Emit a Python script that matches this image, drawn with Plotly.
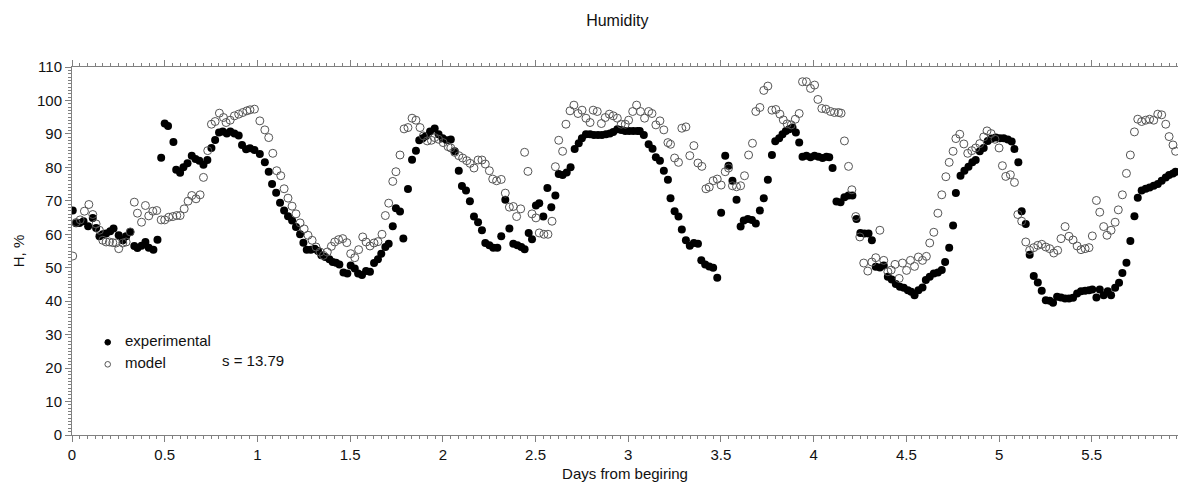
import plotly.graph_objects as go

# Measured humidity (days since start, %)
days_exp = [
    0.004, 0.022, 0.040, 0.062, 0.087, 0.112, 0.130, 0.148, 0.166, 0.184, 0.206, 0.224, 0.252, 0.274, 0.292, 0.314,
    0.336, 0.353, 0.375, 0.396, 0.414, 0.439, 0.461, 0.481, 0.500, 0.518, 0.547, 0.562, 0.583, 0.601, 0.623, 0.646,
    0.666, 0.687, 0.709, 0.730, 0.752, 0.772, 0.793, 0.813, 0.835, 0.854, 0.876, 0.899, 0.917, 0.939, 0.960, 0.984,
    1.013, 1.040, 1.061, 1.079, 1.101, 1.122, 1.144, 1.165, 1.187, 1.208, 1.230, 1.248, 1.266, 1.288, 1.309, 1.327,
    1.345, 1.366, 1.388, 1.406, 1.424, 1.442, 1.464, 1.485, 1.503, 1.525, 1.543, 1.564, 1.586, 1.607, 1.629, 1.650,
    1.668, 1.690, 1.708, 1.730, 1.747, 1.769, 1.787, 1.812, 1.834, 1.855, 1.873, 1.891, 1.909, 1.931, 1.956, 1.977,
    1.999, 2.021, 2.043, 2.064, 2.086, 2.103, 2.125, 2.146, 2.168, 2.190, 2.211, 2.229, 2.251, 2.272, 2.294, 2.315,
    2.337, 2.359, 2.380, 2.402, 2.423, 2.441, 2.463, 2.481, 2.502, 2.520, 2.542, 2.564, 2.585, 2.607, 2.625, 2.646,
    2.668, 2.689, 2.711, 2.733, 2.750, 2.772, 2.794, 2.815, 2.837, 2.858, 2.880, 2.901, 2.919, 2.941, 2.962, 2.984,
    3.005, 3.027, 3.049, 3.062, 3.084, 3.110, 3.131, 3.149, 3.171, 3.192, 3.214, 3.228, 3.250, 3.271, 3.289, 3.311,
    3.332, 3.354, 3.376, 3.394, 3.415, 3.437, 3.458, 3.480, 3.501, 3.523, 3.541, 3.562, 3.584, 3.606, 3.623, 3.645,
    3.667, 3.688, 3.710, 3.731, 3.753, 3.775, 3.793, 3.814, 3.832, 3.850, 3.868, 3.886, 3.904, 3.922, 3.940, 3.961,
    3.983, 4.005, 4.026, 4.048, 4.069, 4.084, 4.102, 4.123, 4.145, 4.166, 4.188, 4.209, 4.231, 4.252, 4.274, 4.296,
    4.314, 4.335, 4.357, 4.378, 4.400, 4.421, 4.443, 4.465, 4.486, 4.508, 4.526, 4.544, 4.565, 4.587, 4.605, 4.626,
    4.648, 4.670, 4.691, 4.709, 4.731, 4.752, 4.767, 4.792, 4.813, 4.835, 4.856, 4.874, 4.896, 4.917, 4.939, 4.960,
    4.982, 5.004, 5.025, 5.047, 5.068, 5.083, 5.104, 5.122, 5.144, 5.165, 5.187, 5.209, 5.230, 5.252, 5.273, 5.291,
    5.313, 5.334, 5.356, 5.377, 5.399, 5.421, 5.442, 5.464, 5.485, 5.503, 5.525, 5.543, 5.564, 5.586, 5.604, 5.626,
    5.647, 5.665, 5.687, 5.708, 5.730, 5.748, 5.769, 5.791, 5.812, 5.834, 5.856, 5.877, 5.899, 5.917, 5.938, 5.952,
]
hum_exp = [
    67.1, 63.3, 63.4, 63.9, 62.4, 64.9, 61.9, 59.4, 60.0, 60.2, 60.9, 61.7, 59.7, 58.2, 59.4, 60.7,
    56.5, 55.9, 56.6, 57.7, 56.0, 55.4, 58.4, 82.9, 93.1, 92.4, 87.6, 79.3, 78.4, 80.0, 81.2, 83.5,
    82.5, 82.0, 80.8, 82.2, 85.8, 88.2, 90.4, 90.7, 90.1, 90.7, 90.1, 89.5, 86.7, 85.4, 85.7, 85.2,
    84.0, 81.5, 78.7, 75.0, 72.4, 69.4, 67.1, 65.4, 64.1, 62.2, 60.0, 57.5, 55.4, 55.4, 55.7, 55.0,
    53.7, 53.2, 52.5, 51.7, 51.5, 51.0, 48.6, 48.3, 50.7, 49.8, 48.3, 47.8, 49.0, 48.8, 51.4, 52.5,
    54.2, 56.2, 57.2, 62.4, 67.8, 66.8, 58.7, 73.5, 82.3, 85.0, 88.1, 88.7, 89.4, 90.7, 91.6, 89.9,
    88.7, 88.1, 88.3, 84.8, 79.0, 74.4, 73.1, 69.9, 65.3, 63.6, 61.2, 57.4, 56.7, 56.0, 56.0, 59.4,
    70.3, 61.7, 57.2, 56.7, 56.2, 55.5, 60.4, 58.5, 68.6, 69.3, 65.3, 73.8, 68.1, 71.6, 78.0, 77.7,
    78.5, 80.0, 85.5, 87.2, 88.7, 89.9, 89.9, 89.7, 89.7, 89.7, 89.9, 90.1, 90.6, 91.4, 91.2, 90.9,
    90.9, 90.9, 90.9, 90.9, 89.7, 86.9, 85.6, 83.0, 82.0, 79.0, 76.3, 70.8, 66.9, 65.3, 61.4, 58.2,
    56.6, 57.4, 57.2, 52.2, 51.0, 50.4, 50.0, 47.0, 66.4, 83.5, 80.5, 76.0, 70.3, 62.3, 64.1, 64.6,
    64.3, 63.2, 67.1, 70.8, 76.3, 83.7, 87.8, 88.7, 89.9, 90.9, 91.4, 91.9, 90.4, 87.4, 83.2, 83.5,
    83.0, 83.5, 83.2, 82.8, 83.2, 83.0, 79.8, 69.8, 69.6, 71.1, 71.6, 71.6, 64.6, 60.4, 60.2, 60.2,
    58.2, 50.3, 50.1, 50.7, 47.3, 46.5, 45.1, 44.3, 44.0, 43.3, 42.8, 41.8, 43.3, 44.1, 46.3, 47.3,
    48.3, 48.6, 49.3, 51.7, 56.0, 62.6, 72.3, 77.5, 79.0, 80.2, 81.5, 82.2, 84.8, 85.8, 87.9, 88.6,
    88.9, 88.7, 88.7, 88.3, 87.7, 85.5, 81.5, 66.9, 63.1, 53.9, 47.5, 45.6, 43.1, 40.3, 40.1, 39.5,
    41.3, 41.1, 40.8, 40.8, 41.0, 42.3, 43.0, 43.1, 43.3, 43.5, 41.1, 43.5, 41.8, 43.0, 41.8, 44.0,
    45.5, 48.4, 51.5, 58.0, 65.4, 70.9, 73.1, 73.6, 74.0, 74.5, 75.0, 76.0, 77.0, 77.7, 78.2, 78.7,
]

# Model humidity (days since start, %)
days_mod = [
    0.004, 0.022, 0.044, 0.067, 0.091, 0.112, 0.130, 0.148, 0.166, 0.184, 0.202, 0.220, 0.238, 0.252, 0.274, 0.292,
    0.314, 0.336, 0.353, 0.375, 0.396, 0.414, 0.436, 0.457, 0.481, 0.500, 0.522, 0.544, 0.565, 0.583, 0.605, 0.626,
    0.646, 0.669, 0.691, 0.709, 0.732, 0.752, 0.772, 0.795, 0.817, 0.831, 0.853, 0.876, 0.899, 0.921, 0.943, 0.960,
    0.984, 1.013, 1.040, 1.061, 1.083, 1.104, 1.126, 1.144, 1.165, 1.187, 1.208, 1.230, 1.252, 1.273, 1.295, 1.316,
    1.338, 1.356, 1.377, 1.399, 1.417, 1.438, 1.460, 1.482, 1.503, 1.525, 1.546, 1.568, 1.586, 1.607, 1.629, 1.650,
    1.672, 1.690, 1.708, 1.730, 1.747, 1.769, 1.791, 1.812, 1.834, 1.855, 1.877, 1.895, 1.916, 1.938, 1.956, 1.977,
    2.002, 2.028, 2.043, 2.064, 2.086, 2.107, 2.129, 2.147, 2.168, 2.190, 2.211, 2.229, 2.251, 2.269, 2.290, 2.315,
    2.337, 2.359, 2.380, 2.398, 2.420, 2.441, 2.459, 2.481, 2.502, 2.520, 2.545, 2.567, 2.589, 2.607, 2.625, 2.646,
    2.664, 2.686, 2.707, 2.729, 2.751, 2.772, 2.794, 2.811, 2.833, 2.855, 2.876, 2.898, 2.919, 2.941, 2.962, 2.984,
    3.002, 3.024, 3.045, 3.066, 3.088, 3.110, 3.128, 3.149, 3.171, 3.192, 3.214, 3.228, 3.250, 3.271, 3.289, 3.311,
    3.332, 3.354, 3.376, 3.397, 3.419, 3.437, 3.458, 3.480, 3.501, 3.523, 3.541, 3.562, 3.584, 3.606, 3.627, 3.649,
    3.670, 3.688, 3.710, 3.731, 3.753, 3.775, 3.796, 3.818, 3.836, 3.857, 3.879, 3.901, 3.922, 3.940, 3.961, 3.983,
    4.005, 4.023, 4.044, 4.066, 4.091, 4.112, 4.134, 4.148, 4.166, 4.188, 4.206, 4.227, 4.249, 4.270, 4.292, 4.314,
    4.335, 4.357, 4.378, 4.400, 4.418, 4.439, 4.461, 4.479, 4.501, 4.522, 4.544, 4.565, 4.587, 4.608, 4.626, 4.648,
    4.670, 4.691, 4.713, 4.731, 4.752, 4.767, 4.788, 4.810, 4.831, 4.853, 4.874, 4.896, 4.917, 4.935, 4.957, 4.978,
    5.000, 5.018, 5.036, 5.061, 5.083, 5.101, 5.122, 5.144, 5.165, 5.187, 5.209, 5.230, 5.252, 5.273, 5.295, 5.316,
    5.334, 5.356, 5.377, 5.399, 5.421, 5.442, 5.464, 5.485, 5.503, 5.525, 5.543, 5.564, 5.582, 5.604, 5.626, 5.643,
    5.665, 5.687, 5.708, 5.730, 5.748, 5.769, 5.791, 5.812, 5.834, 5.856, 5.877, 5.899, 5.917, 5.938, 5.952,
]
hum_mod = [
    53.5, 63.5, 64.3, 66.9, 68.9, 65.9, 63.1, 61.2, 58.2, 57.7, 57.7, 57.5, 57.4, 55.7, 57.4, 57.7,
    60.7, 69.6, 66.3, 63.6, 68.6, 65.5, 66.9, 67.1, 64.3, 64.3, 65.1, 65.3, 65.6, 65.6, 67.6, 69.9,
    71.6, 70.6, 71.8, 77.0, 85.0, 92.9, 93.7, 96.2, 94.9, 93.4, 94.1, 95.4, 95.9, 96.4, 96.9, 97.2,
    97.4, 93.9, 91.2, 88.9, 84.2, 79.0, 77.5, 73.6, 70.8, 68.4, 66.1, 63.4, 61.6, 59.7, 58.2, 56.2,
    54.7, 53.7, 54.7, 56.4, 57.7, 58.4, 58.7, 57.5, 54.2, 53.0, 55.4, 59.2, 57.7, 56.5, 57.4, 57.8,
    60.0, 65.6, 69.3, 75.8, 78.7, 83.7, 91.5, 91.9, 94.7, 94.1, 91.9, 89.4, 87.9, 88.1, 88.9, 88.4,
    87.4, 86.2, 85.8, 84.5, 83.5, 82.8, 82.0, 81.2, 79.8, 82.2, 82.2, 81.0, 79.0, 76.5, 76.0, 76.4,
    72.3, 68.1, 68.3, 65.3, 67.6, 84.5, 78.8, 66.1, 64.9, 60.4, 60.0, 60.0, 63.9, 80.2, 88.1, 84.8,
    92.9, 96.9, 98.6, 96.1, 97.1, 94.7, 93.4, 97.1, 96.7, 93.1, 94.9, 95.9, 95.4, 94.7, 92.9, 92.9,
    94.1, 96.7, 98.6, 96.7, 94.7, 96.7, 96.1, 92.7, 93.9, 91.2, 87.4, 86.9, 82.8, 81.5, 91.7, 92.1,
    83.5, 86.5, 81.3, 80.3, 73.6, 74.1, 76.0, 76.5, 74.7, 78.7, 79.8, 74.5, 74.2, 74.5, 77.5, 83.7,
    87.2, 96.7, 97.9, 103.0, 104.3, 97.1, 97.3, 95.9, 94.2, 93.0, 92.7, 94.4, 96.1, 105.6, 105.6, 103.6,
    104.6, 100.3, 97.6, 97.4, 96.7, 96.4, 96.4, 96.2, 87.9, 80.3, 73.3, 65.3, 59.2, 51.4, 49.0, 51.7,
    53.0, 61.2, 52.2, 48.8, 49.3, 51.0, 46.8, 51.4, 49.2, 52.2, 50.4, 53.2, 52.2, 53.4, 57.4, 60.6,
    66.3, 71.8, 77.2, 81.5, 84.8, 88.6, 89.9, 87.0, 84.2, 85.0, 85.8, 87.1, 89.1, 90.9, 90.1, 88.4,
    85.8, 80.5, 77.3, 77.8, 75.5, 65.9, 63.9, 57.7, 55.2, 56.0, 56.7, 57.0, 56.2, 55.7, 54.4, 55.2,
    58.7, 62.3, 59.4, 58.3, 56.5, 55.4, 55.7, 56.0, 59.5, 70.1, 66.6, 62.3, 59.7, 61.2, 63.6, 67.3,
    71.8, 78.2, 83.7, 90.6, 94.4, 93.7, 94.1, 94.4, 94.1, 95.9, 95.7, 92.9, 89.2, 86.7, 84.8,
]

x_ticks = [0, 0.5, 1, 1.5, 2, 2.5, 3, 3.5, 4, 4.5, 5, 5.5]
x_tick_labels = ["0", "0.5", "1", "1.5", "2", "2.5", "3", "3.5", "4", "4.5", "5", "5.5"]
y_ticks = [0, 10, 20, 30, 40, 50, 60, 70, 80, 90, 100, 110]
series_names = ["experimental", "model"]
fit_label = "s = 13.79"

FONT = "Liberation Sans, Arial, Helvetica, sans-serif"
AXIS = "#808080"
INK = "#111111"
OPEN_GREY = "#555555"

fig = go.Figure()
fig.add_trace(go.Scatter(
    x=days_exp, y=hum_exp, mode="markers", name=series_names[0], showlegend=False,
    marker=dict(symbol="circle", size=8, color="black", line=dict(width=0)),
))
fig.add_trace(go.Scatter(
    x=days_mod, y=hum_mod, mode="markers", name=series_names[1], showlegend=False,
    marker=dict(symbol="circle-open", size=8, color=OPEN_GREY, line=dict(width=1, color=OPEN_GREY)),
))

# Compact key in the lower-left corner: small symbols followed by the series names
key_x = 0.0323
key_text_x = 0.0464
key_rows = [0.2519, 0.1921]
key_styles = [dict(fillcolor="black", line=dict(color="black", width=1)),
              dict(fillcolor="white", line=dict(color=OPEN_GREY, width=1))]
for name, row, style in zip(series_names, key_rows, key_styles):
    fig.add_shape(
        type="circle", xref="paper", yref="paper", xsizemode="pixel", ysizemode="pixel",
        xanchor=key_x, yanchor=row, x0=-2.8, x1=2.8, y0=-2.8, y1=2.8, **style,
    )
    fig.add_annotation(
        x=key_text_x, y=row + 0.005, xref="paper", yref="paper", text=name, showarrow=False,
        xanchor="left", yanchor="middle", font=dict(family=FONT, size=15, color=INK),
    )

fig.add_annotation(
    x=0.80, y=22.4, xref="x", yref="y", text=fit_label, showarrow=False,
    xanchor="left", yanchor="middle", font=dict(family=FONT, size=15, color=INK),
)

fig.update_layout(
    width=1178, height=482,
    margin=dict(l=72, r=0, t=67, b=47),
    paper_bgcolor="white", plot_bgcolor="white",
    font=dict(family=FONT, size=15, color=INK),
    title=dict(text="Humidity", x=0.493, xref="paper", y=1 - 20 / 482, yref="container",
               xanchor="center", yanchor="middle", font=dict(family=FONT, size=16, color=INK)),
    showlegend=False,
)

fig.update_xaxes(
    range=[0, 5.965], tickmode="array", tickvals=x_ticks, ticktext=x_tick_labels,
    showline=True, linecolor=AXIS, linewidth=1, mirror="ticks",
    ticks="outside", ticklen=6, tickcolor=AXIS, tickwidth=1,
    minor=dict(dtick=1 / 24, tick0=0, ticks="outside", ticklen=3, tickcolor=AXIS, showgrid=False),
    showgrid=False, zeroline=False,
    tickfont=dict(family=FONT, size=15, color=INK),
    title=dict(text="Days from begiring", font=dict(family=FONT, size=15, color=INK), standoff=6),
)
fig.update_yaxes(
    range=[0, 110], tickmode="array", tickvals=y_ticks,
    showline=True, linecolor=AXIS, linewidth=1,
    ticks="outside", ticklen=6, tickcolor=AXIS, tickwidth=1,
    minor=dict(dtick=1, tick0=0, ticks="outside", ticklen=3, tickcolor=AXIS, showgrid=False),
    showgrid=False, zeroline=False,
    tickfont=dict(family=FONT, size=15, color=INK),
    title=dict(text="H, %", font=dict(family=FONT, size=15, color=INK), standoff=8),
)

fig.write_html("out.html")
